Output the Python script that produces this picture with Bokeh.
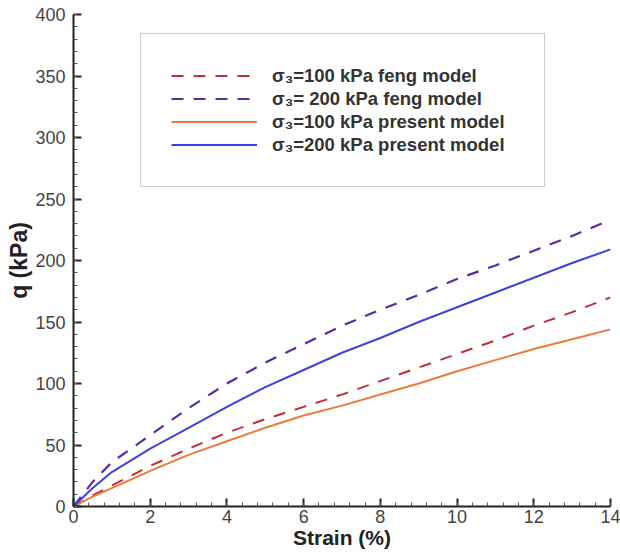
from bokeh.plotting import figure
from bokeh.models import Range1d, Legend, LegendItem, FixedTicker
from bokeh.embed import file_html
from bokeh.resources import INLINE

strain = [0, 0.5, 1, 2, 3, 4, 5, 6, 7, 8, 9, 10, 11, 12, 13, 14]
q_100_feng = [0, 9, 17, 33, 47, 60, 71, 81, 91, 102, 113, 124, 135, 147, 158, 170]
q_200_feng = [0, 20, 36, 58, 80, 100, 117, 132, 147, 160, 172, 185, 196, 208, 220, 233]
q_100_present = [0, 8, 15, 29, 42, 53, 64, 74, 82, 91, 100, 110, 119, 128, 136, 144]
q_200_present = [0, 15, 28, 47, 64, 81, 97, 111, 125, 137, 150, 162, 174, 186, 198, 209]

labels = ["σ₃=100 kPa feng model", "σ₃= 200 kPa feng model",
          "σ₃=100 kPa present model", "σ₃=200 kPa present model"]
x_ticks = [0, 2, 4, 6, 8, 10, 12, 14]
y_ticks = [0, 50, 100, 150, 200, 250, 300, 350, 400]

FONT = "Liberation Sans"

p = figure(width=620, height=553, output_backend="svg", toolbar_location=None,
           x_range=Range1d(0, 14), y_range=Range1d(0, 400),
           min_border_left=73, min_border_right=10, min_border_top=14, min_border_bottom=47)
p.outline_line_color = None
p.xgrid.visible = False
p.ygrid.visible = False

r1 = p.line(strain, q_100_feng, line_color="#C0303A", line_width=2, line_dash="12 10")
r2 = p.line(strain, q_200_feng, line_color="#5A2A9E", line_width=2.2, line_dash="12 10")
r3 = p.line(strain, q_100_present, line_color="#EC7A3C", line_width=2)
r4 = p.line(strain, q_200_present, line_color="#4040DD", line_width=2)

legend = Legend(items=[LegendItem(label=labels[i], renderers=[r]) for i, r in enumerate([r1, r2, r3, r4])],
                location=(67, 319), padding=30, spacing=0, glyph_width=86, glyph_height=23,
                label_height=23, label_width=242, label_standoff=15, label_text_font=FONT,
                label_text_font_style="bold", label_text_font_size="18.5px",
                label_text_color="#333333", border_line_color="#999999",
                border_line_width=1, background_fill_alpha=1, margin=0)
p.add_layout(legend)

for ax in (p.xaxis[0], p.yaxis[0]):
    ax.major_tick_in = 8
    ax.major_tick_out = 0
    ax.minor_tick_in = 4
    ax.minor_tick_out = 0
    ax.axis_line_width = 2
    ax.major_tick_line_width = 2
    ax.axis_line_color = "#222222"
    ax.major_tick_line_color = "#222222"
    ax.minor_tick_line_color = "#555555"
    ax.major_label_text_font = FONT
    ax.major_label_text_font_size = "18px"
    ax.major_label_text_color = "#444444"
    ax.axis_label_text_font = FONT
    ax.axis_label_text_font_style = "bold"
    ax.axis_label_text_font_size = "21px"
    ax.axis_label_text_color = "#222222"

p.yaxis.axis_label_text_font_size = "23px"
p.xaxis.ticker = FixedTicker(ticks=x_ticks, minor_ticks=[i * 0.4 for i in range(36)])
p.yaxis.ticker = FixedTicker(ticks=y_ticks, minor_ticks=list(range(0, 401, 10)))
p.xaxis.axis_label = "Strain (%)"
p.yaxis.axis_label = "q (kPa)"
p.xaxis.major_label_standoff = 3
p.xaxis.axis_label_standoff = 0
p.yaxis.major_label_standoff = 8
p.yaxis.axis_label_standoff = 0

open("out.html", "w").write(file_html(p, INLINE))
